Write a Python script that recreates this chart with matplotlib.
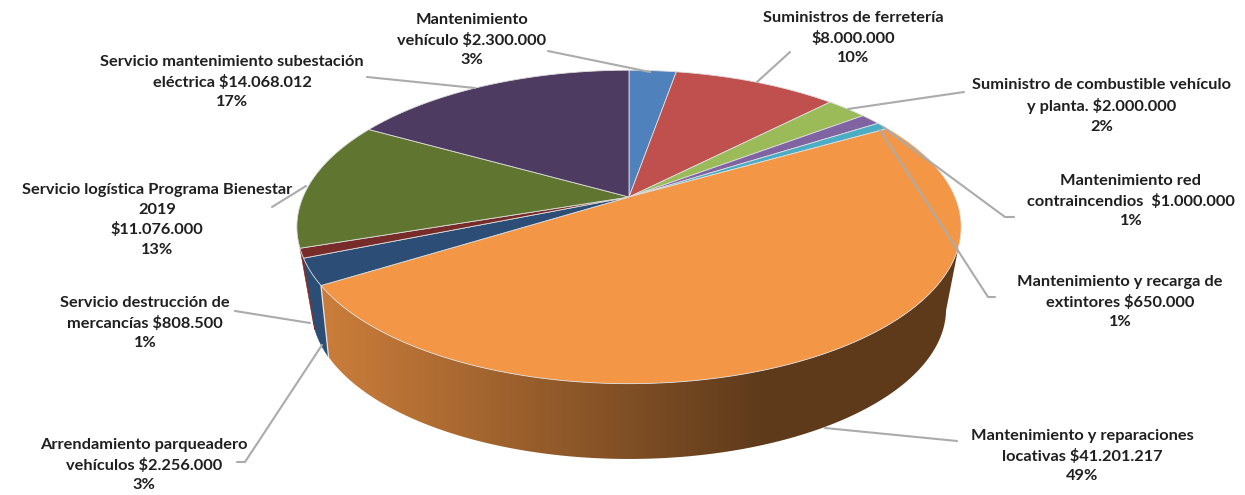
import numpy as np
import matplotlib
matplotlib.use("Agg")
import matplotlib.pyplot as plt
from matplotlib.collections import PolyCollection
from matplotlib.patches import Polygon

# Data (clockwise from 12 o'clock)
values = [2300000, 8000000, 2000000, 1000000, 650000, 41201217, 2256000, 808500, 11076000, 14068012]
labels = [
    "Mantenimiento\nvehículo $2.300.000\n3%",
    "Suministros de ferretería\n$8.000.000\n10%",
    "Suministro de combustible vehículo\ny planta. $2.000.000\n2%",
    "Mantenimiento red\ncontraincendios  $1.000.000\n1%",
    "Mantenimiento y recarga de\nextintores $650.000\n1%",
    "Mantenimiento y reparaciones\nlocativas $41.201.217\n49%",
    "Arrendamiento parqueadero\nvehículos $2.256.000\n3%",
    "Servicio destrucción de\nmercancías $808.500\n1%",
    "Servicio logística Programa Bienestar\n2019\n$11.076.000\n13%",
    "Servicio mantenimiento subestación\neléctrica $14.068.012\n17%",
]
top_colors = ["#4F81BD", "#C0504D", "#9BBB59", "#8064A2", "#4BACC6",
              "#F39646", "#2C4D75", "#772C2A", "#5F7530", "#4D3B62"]

# Layout (pixels)
label_xy = [(472, 40), (853, 38), (1102, 106), (1131, 201), (1120, 302),
            (1082, 456), (144, 465), (145, 323), (157, 220), (232, 82)]
leaders = [
    [(548, 51), (650, 72)],
    [(790, 52), (757, 82)],
    [(964, 92), (848, 109)],
    [(1014, 217), (1005, 217), (883, 127)],
    [(995, 297), (988, 297), (880, 130)],
    [(957, 441), (825, 428)],
    [(237, 462), (245, 462), (322, 345)],
    [(235, 311), (310, 323)],
    [(272, 207), (306, 186)],
    [(367, 77), (475, 88)],
]
CX = 629
TOP = dict(cy=197.0, a=326.0, b=151.0, k=0.191)
BOTTOM = dict(cy=271.5, a=307.0, b=140.6, k=0.25)
TANGENT_ANGLE = np.deg2rad(105)


def project(theta, g):
    x, y = np.sin(theta), np.cos(theta)
    d = 1 + g["k"] * y
    return CX + g["a"] * x / d, g["cy"] - g["b"] * y / d


def wall_polygon(t0, t1):
    th = np.linspace(t0, t1, 200)
    xt, yt = project(th, TOP)
    xb, yb = project(th[::-1], BOTTOM)
    return np.column_stack([np.r_[xt, xb], np.r_[yt, yb]])


fig = plt.figure(figsize=(12.45, 4.95), dpi=100)
ax = fig.add_axes([0, 0, 1, 1])
ax.set_xlim(0, 1245)
ax.set_ylim(495, 0)
ax.axis("off")

fractions = np.array(values) / np.sum(values)
edges = np.concatenate([[0], np.cumsum(fractions)]) * 2 * np.pi

# side wall: navy and dark red slices, flat colour
for i in (6, 7):
    ax.add_patch(Polygon(wall_polygon(edges[i], edges[i + 1]), closed=True,
                         facecolor=top_colors[i], edgecolor=top_colors[i], lw=0.4, zorder=2))

# side wall: orange slice, horizontal gradient
orange = 5
base = np.array(matplotlib.colors.to_rgb(top_colors[orange]))
xgrid = np.arange(300, 980)
t = np.clip((xgrid - 330) / (760 - 330), 0, 1)
gradient = (base[None, :] * (0.83 + (0.39 - 0.83) * t)[:, None])[None, :, :]
poly = Polygon(wall_polygon(TANGENT_ANGLE, edges[orange + 1]), closed=True,
               facecolor="none", edgecolor="none", transform=ax.transData)
ax.add_patch(poly)
im = ax.imshow(gradient, extent=(300, 980, 480, 180), aspect="auto", zorder=2, interpolation="bilinear")
im.set_clip_path(poly)
ax.set_xlim(0, 1245)
ax.set_ylim(495, 0)

# seam at the edge of the orange slice
xt, yt = project(edges[orange + 1], TOP)
xb, yb = project(edges[orange + 1], BOTTOM)
ax.plot([xt, xb], [yt, yb], color="#E6E6E6", lw=0.9, zorder=3)

# top faces
for i, col in enumerate(top_colors):
    th = np.linspace(edges[i], edges[i + 1], max(3, int((edges[i + 1] - edges[i]) * 200)))
    xs, ys = project(th, TOP)
    ax.fill(np.r_[CX, xs], np.r_[TOP["cy"], ys], facecolor=col, edgecolor="#DDDDDD", lw=0.6, zorder=4)

# leaders
for pts in leaders:
    p = np.array(pts)
    ax.plot(p[:, 0], p[:, 1], color="#ABABAB", lw=1.5, zorder=5, solid_capstyle="round")

# labels
for (x, y), s in zip(label_xy, labels):
    ax.text(x, y, s, ha="center", va="center", family="Lato", weight="bold",
            fontsize=11.8, color="#1F1F1F", linespacing=1.5, zorder=6)

fig.savefig("out.png", dpi=100)
